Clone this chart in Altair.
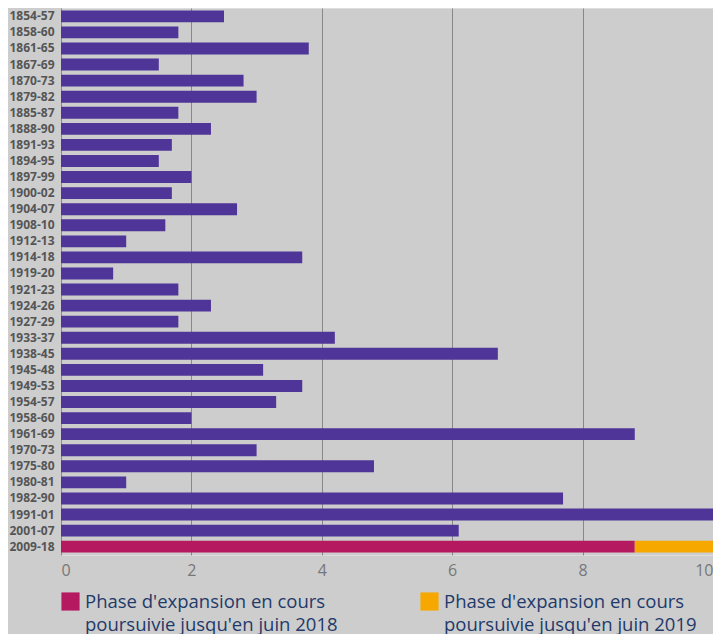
import altair as alt
import pandas as pd

periods = ["1854-57","1858-60","1861-65","1867-69","1870-73","1879-82","1885-87","1888-90",
           "1891-93","1894-95","1897-99","1900-02","1904-07","1908-10","1912-13","1914-18",
           "1919-20","1921-23","1924-26","1927-29","1933-37","1938-45","1945-48","1949-53",
           "1954-57","1958-60","1961-69","1970-73","1975-80","1980-81","1982-90","1991-01",
           "2001-07","2009-18"]
durations = [2.5,1.8,3.8,1.5,2.8,3.0,1.8,2.3,
             1.7,1.5,2.0,1.7,2.7,1.6,1.0,3.7,
             0.8,1.8,2.3,1.8,4.2,6.7,3.1,3.7,
             3.3,2.0,8.8,3.0,4.8,1.0,7.7,10.0,
             6.1,None]
last_2018 = 8.8
last_2019 = 1.2

L2018 = "Phase d'expansion en cours|poursuivie jusqu'en juin 2018"
L2019 = "Phase d'expansion en cours|poursuivie jusqu'en juin 2019"
BASE = "Expansion"

rows = []
for p, d in zip(periods, durations):
    if d is not None:
        rows.append({"period": p, "value": d, "series": BASE, "order": 0})
rows.append({"period": "2009-18", "value": last_2018, "series": L2018, "order": 1})
rows.append({"period": "2009-18", "value": last_2019, "series": L2019, "order": 2})
df = pd.DataFrame(rows)

chart = alt.Chart(df).mark_bar().encode(
    y=alt.Y("period:N", sort=periods, title=None,
            scale=alt.Scale(paddingInner=0.26, paddingOuter=0.15),
            axis=alt.Axis(labelFont="Open Sans", labelFontWeight="bold", labelFontSize=12,
                          labelLineHeight=12,
                          labelColor="#555555", ticks=False, domain=False, labelPadding=7)),
    x=alt.X("sum(value):Q", title=None, stack="zero",
            scale=alt.Scale(domain=[0, 10], nice=False),
            axis=alt.Axis(values=[0, 2, 4, 6, 8, 10], labelFont="Open Sans", labelFontSize=16,
                          labelLineHeight=18,
                          labelColor="#777777", ticks=False, domain=False, grid=True,
                          gridColor="#888888", gridWidth=1, labelPadding=7)),
    color=alt.Color("series:N",
                    scale=alt.Scale(domain=[BASE, L2018, L2019],
                                    range=["#4f3597", "#b5195f", "#f7a800"]),
                    legend=alt.Legend(values=[L2018, L2019], title=None, orient="bottom",
                                      direction="horizontal", symbolType="square",
                                      symbolSize=330, symbolStrokeWidth=0,
                                      labelFont="Open Sans", labelFontSize=18.5,
                                      labelColor="#1f3a6a", labelLimit=400,
                                      labelExpr="split(datum.label, '|')",
                                      columnPadding=82, offset=14, padding=0,
                                      labelOffset=5)),
    order=alt.Order("order:Q"),
).properties(
    width=705, height=626,
    background="#cdcdcd",
    padding={"left": 0, "top": 0, "right": 0, "bottom": 0},
    autosize=alt.AutoSizeParams(type="fit", contains="padding"),
).configure_view(
    stroke="#999999", strokeWidth=1.5
).configure(
    style={"guide-label": {"lineHeight": 23}}
)

chart.save("out.html", embed_options={"renderer": "svg", "actions": False})
